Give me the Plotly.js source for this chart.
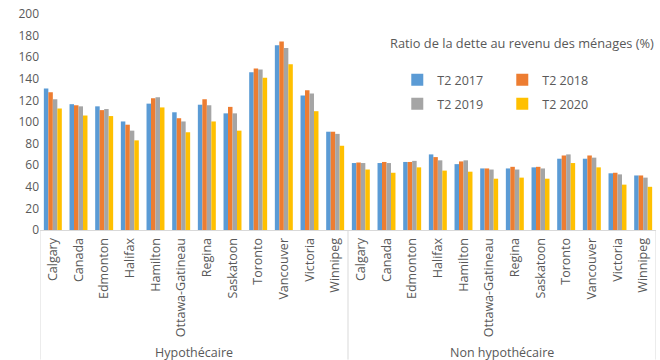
<!DOCTYPE html>
<html><head><meta charset="utf-8">
<script src="https://cdn.plot.ly/plotly-3.0.1.min.js"></script>
<style>body{margin:0;padding:0;background:#fff}#chart{width:660px;height:360px}</style>
</head><body><div id="chart"></div>
<script>
const cities = ["Calgary","Canada","Edmonton","Halifax","Hamilton","Ottawa-Gatineau","Regina","Saskatoon","Toronto","Vancouver","Victoria","Winnipeg"];
const groups = ["Hypothécaire","Non hypothécaire"];
const seriesNames = ["T2 2017","T2 2018","T2 2019","T2 2020"];
// Hypothécaire then Non hypothécaire, per city
const t2017 = [131,116.5,114.5,100.5,117,109,116,108,146,171,124.5,91,
               62,62,63,70,61,57,57,58,66,66,52.5,50.5];
const t2018 = [127.5,115.5,111,97.5,122,103.5,121,114,149.5,174.5,129.5,91,
               62.5,63,63,67.5,63.5,57,58.5,58.5,69,69,53,50.5];
const t2019 = [121,114.5,112,92,123,100.5,115.5,108,148.5,168.5,126.5,89,
               62,62,64,64.5,64.5,56,56,57,70,67,51.5,48.5];
const t2020 = [112.5,106,105.5,83,113.5,90.5,100.5,92,141,153.5,110,78,
               56,53,58,55,54,47.5,48.5,47.5,62,58,42,40];
const colors = ["#5B9BD5","#ED7D31","#A5A5A5","#FFC000"];

// positions along the category axis, built from the lists above
const tickLabels = [];
groups.forEach(g => cities.forEach(c => tickLabels.push(c)));
const xPos = tickLabels.map((_, i) => i);
const n = cities.length;

const allVals = [t2017,t2018,t2019,t2020];
const legendIds = ["legend","legend","legend2","legend2"];
const traces = allVals.map((v,i) => ({
  type:"bar", name: seriesNames[i], x:xPos, y:v,
  marker:{color:colors[i]}, hoverinfo:"y", legend: legendIds[i]
}));

const FF = "Open Sans, sans-serif";
const TXT = "#595959";
const legendBase = {orientation:"h", xanchor:"left", yanchor:"middle",
  entrywidth:60, itemwidth:30, font:{family:FF, size:12.5, color:TXT},
  bgcolor:"rgba(0,0,0,0)", borderwidth:0, traceorder:"normal"};

const yBottom = -0.60;
const shapes = [];
for (let k = 0; k <= groups.length; k++) {
  const xv = k * n - 0.5;
  shapes.push({type:"line", xref:"x", yref:"paper", x0:xv, x1:xv, y0:0, y1:yBottom,
               line:{color:"#D9D9D9", width:1}});
}
const annotations = groups.map((g, k) => ({
  text:g, xref:"x", yref:"paper", x:k * n + (n - 1) / 2, y:-0.568,
  xanchor:"center", yanchor:"middle", showarrow:false,
  font:{family:FF, size:12.5, color:TXT}
}));
annotations.push({text:"Ratio de la dette au revenu des ménages (%)", xref:"paper", yref:"paper",
    x:1, y:(230-43)/216, xanchor:"right", yanchor:"middle", showarrow:false,
    font:{family:FF, size:12.8, color:TXT}});

Plotly.newPlot("chart", traces, {
  width:660, height:360,
  margin:{l:40,r:4,t:14,b:130},
  paper_bgcolor:"#fff", plot_bgcolor:"#fff",
  font: {family:FF, size:12, color:TXT},
  barmode:"group", bargap:0.3, bargroupgap:0,
  showlegend:true,
  legend: Object.assign({}, legendBase, {x:0.58, y:(230-80)/216}),
  legend2: Object.assign({}, legendBase, {x:0.58, y:(230-104)/216}),
  xaxis:{range:[-0.5, xPos.length - 0.5], tickmode:"array", tickvals:xPos, ticktext:tickLabels,
         tickangle:-90, showline:true, linecolor:"#D9D9D9", showgrid:false, zeroline:false,
         ticks:"", ticklabelstandoff:2, tickfont:{family:FF, size:12.5, color:TXT}},
  yaxis:{range:[0,200], dtick:20, showgrid:false, zeroline:false, showline:false,
         ticks:"", tickfont:{family:FF, size:12, color:TXT}},
  shapes: shapes,
  annotations: annotations
}, {displayModeBar:false, staticPlot:true});
</script></body></html>
